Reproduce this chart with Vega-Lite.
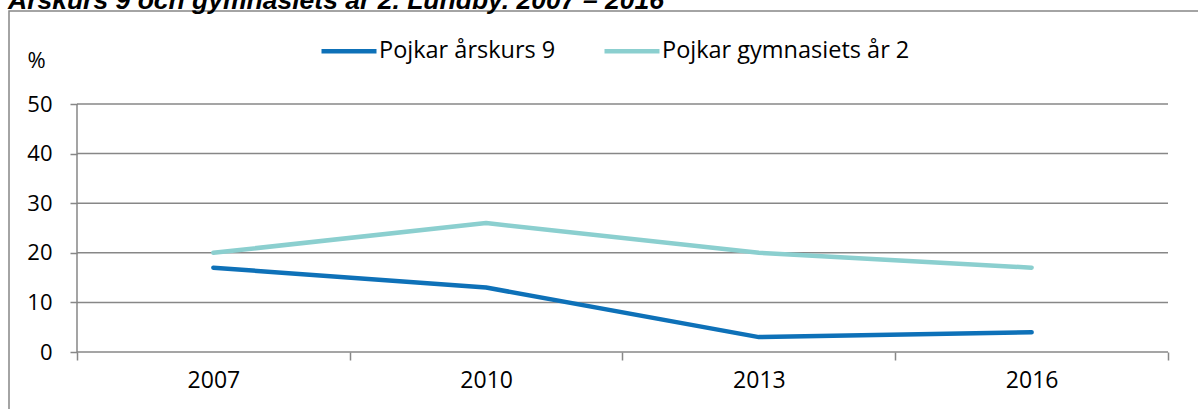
{
  "$schema": "https://vega.github.io/schema/vega-lite/v6.json",
  "autosize": {"type": "none"},
  "padding": {"left": 9, "top": 11, "right": 0, "bottom": 0},
  "width": 1195,
  "height": 400,
  "background": "white",
  "title": {
    "text": "Årskurs 9 och gymnasiets år 2. Lundby. 2007 – 2016",
    "font": "Liberation Sans",
    "fontSize": 26.5,
    "fontWeight": "bold",
    "fontStyle": "italic",
    "color": "#000000",
    "anchor": "start",
    "frame": "group",
    "baseline": "bottom",
    "offset": 0,
    "dx": -1,
    "dy": 30
  },
  "config": {
    "view": {"stroke": "#878787", "strokeWidth": 1.5, "fill": "white"},
    "font": "Open Sans"
  },
  "datasets": {
    "series": [
      {"year": "2007", "pos": 0.5, "group": "Pojkar årskurs 9", "value": 17},
      {"year": "2010", "pos": 1.5, "group": "Pojkar årskurs 9", "value": 13},
      {"year": "2013", "pos": 2.5, "group": "Pojkar årskurs 9", "value": 3},
      {"year": "2016", "pos": 3.5, "group": "Pojkar årskurs 9", "value": 4},
      {"year": "2007", "pos": 0.5, "group": "Pojkar gymnasiets år 2", "value": 20},
      {"year": "2010", "pos": 1.5, "group": "Pojkar gymnasiets år 2", "value": 26},
      {"year": "2013", "pos": 2.5, "group": "Pojkar gymnasiets år 2", "value": 20},
      {"year": "2016", "pos": 3.5, "group": "Pojkar gymnasiets år 2", "value": 17}
    ],
    "grid": [{"g": 10}, {"g": 20}, {"g": 30}, {"g": 40}, {"g": 50}]
  },
  "layer": [
    {
      "data": {"name": "grid"},
      "mark": {"type": "rule", "color": "#878787", "strokeWidth": 1.5},
      "encoding": {
        "x": {"datum": 0, "type": "quantitative",
          "scale": {"domain": [-0.2493, 4.132], "nice": false, "zero": false},
          "axis": {
            "orient": "bottom",
            "offset": -59,
            "values": [0, 0.5, 1, 1.5, 2, 2.5, 3, 3.5, 4],
            "labelExpr": "datum.value == 0.5 ? '2007' : datum.value == 1.5 ? '2010' : datum.value == 2.5 ? '2013' : datum.value == 3.5 ? '2016' : ''",
            "domain": false,
            "grid": false,
            "tickSize": 8,
            "tickWidth": 1.5,
            "tickColor": {"condition": {"test": "datum.value % 1 != 0", "value": "transparent"}, "value": "#878787"},
            "labelFontSize": 23,
            "labelColor": "#000000",
            "labelPadding": 9,
            "labelFlush": false,
            "labelOverlap": false,
            "title": null
          }
        },
        "x2": {"datum": 4},
        "y": {"field": "g", "type": "quantitative",
          "scale": {"domain": [-11.895, 68.75], "nice": false, "zero": false},
          "axis": {
            "orient": "left",
            "offset": -68,
            "values": [0, 10, 20, 30, 40, 50],
            "domain": false,
            "grid": false,
            "tickSize": 7,
            "tickWidth": 1.5,
            "tickColor": "#878787",
            "labelFontSize": 22,
            "labelColor": "#000000",
            "labelPadding": 18,
            "title": "%",
            "titleAngle": 0,
            "titleFontSize": 22,
            "titleFontWeight": "normal",
            "titleColor": "#000000",
            "titleX": -41,
            "titleY": 49,
            "titleAlign": "center",
            "titleBaseline": "middle"
          }
        }
      }
    },
    {
      "data": {"values": [{"a": 0}]},
      "mark": {"type": "rule", "color": "#878787", "strokeWidth": 1.5},
      "encoding": {
        "x": {"datum": 0, "type": "quantitative"},
        "y": {"datum": 0, "type": "quantitative"},
        "y2": {"datum": 50}
      }
    },
    {
      "data": {"values": [{"a": 0}]},
      "mark": {"type": "rule", "color": "#878787", "strokeWidth": 1.5},
      "encoding": {
        "x": {"datum": 0, "type": "quantitative"},
        "x2": {"datum": 4},
        "y": {"datum": 0, "type": "quantitative"}
      }
    },
    {
      "data": {"name": "series"},
      "mark": {"type": "line", "strokeWidth": 4.5, "strokeCap": "round", "strokeJoin": "round"},
      "encoding": {
        "x": {"field": "pos", "type": "quantitative"},
        "y": {"field": "value", "type": "quantitative"},
        "color": {
          "field": "group", "type": "nominal",
          "scale": {"domain": ["Pojkar årskurs 9", "Pojkar gymnasiets år 2"], "range": ["#0E71B8", "#8BCFCF"]},
          "legend": {
            "orient": "none",
            "legendX": 310,
            "legendY": 10,
            "direction": "horizontal",
            "title": null,
            "symbolType": "stroke",
            "symbolSize": 3025,
            "symbolStrokeWidth": 4.5,
            "labelFontSize": 23.5,
            "labelColor": "#000000",
            "labelOffset": 0,
            "columnPadding": 39,
            "labelLimit": 400
          }
        }
      }
    }
  ]
}
